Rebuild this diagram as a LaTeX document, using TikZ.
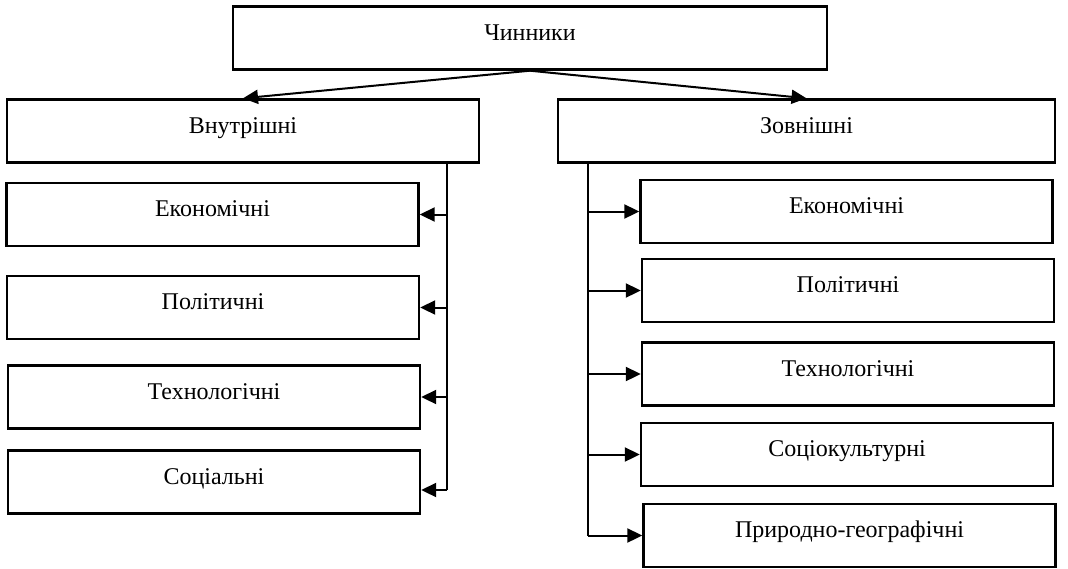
\documentclass[tikz,border=0pt]{standalone}
\usepackage{fontspec}
\setmainfont{Liberation Serif}
\usetikzlibrary{arrows.meta}
\begin{document}
\begin{tikzpicture}[x=0.5pt,y=-0.5pt,>={Triangle[length=7.5pt,width=7pt]},
	box/.style={draw,line width=1.2pt,minimum height=31.5pt,text height=8pt,text depth=6pt,inner sep=0pt,font=\fontsize{12}{14}\selectfont},
	link/.style={->,line width=1pt},
	spine/.style={line width=.6pt}]
	\useasboundingbox (0,0) rectangle (1068,568);
	\node[box,minimum width=297pt] (chin) at (530,38) {Чинники};
	\node[box,minimum width=236pt] (vn) at (243,131) {Внутрішні};
	\node[box,minimum width=248.5pt] (zv) at (806.5,131) {Зовнішні};
	\foreach \n/\x/\y/\txt in {le/212.5/214.5/Економічні,lp/213/307.5/Політичні,lt/214/397/Технологічні,ls/214/482/Соціальні}
	\node[box,minimum width=206pt] (\n) at (\x,\y) {\txt};
	\foreach \n/\x/\y/\txt in {re/846.5/211.5/Економічні,rp/848/290.5/Політичні,rt/848/374/Технологічні,rs/847/454.5/Соціокультурні,rg/849.5/535.5/Природно-географічні}
	\node[box,minimum width=206pt] (\n) at (\x,\y) {\txt};
	\draw[link] (chin.south) -- (vn.north);
	\draw[link] (chin.south) -- (zv.north);
	\coordinate (lspine) at (447,163);
	\coordinate (rspine) at (588,163);
	\draw[spine] (vn.south -| lspine) -- ([yshift=-4pt]ls.east -| lspine);
	\foreach \n in {le,lp,lt}
	\draw[link] (\n.east -| lspine) -- (\n.east);
	\draw[link] ([yshift=-4pt]ls.east -| lspine) -- ([yshift=-4pt]ls.east);
	\draw[spine] (zv.south -| rspine) -- (rg.west -| rspine);
	\foreach \n in {re,rp,rt,rs,rg}
	\draw[link] (\n.west -| rspine) -- (\n.west);
\end{tikzpicture}
\end{document}
